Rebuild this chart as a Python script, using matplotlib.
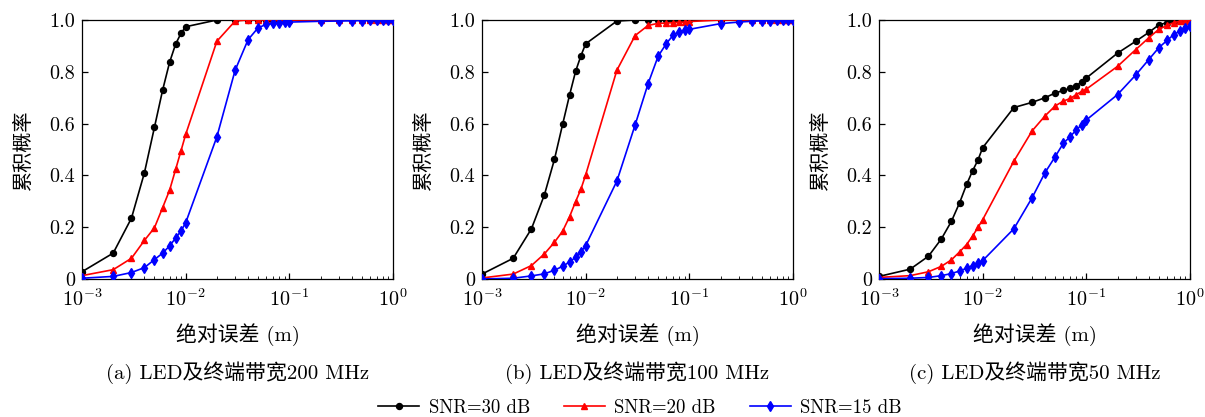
import numpy as np
import matplotlib
matplotlib.use("Agg")
import matplotlib.pyplot as plt

plt.rcParams["font.family"] = ["cmr10", "Noto Sans CJK SC", "DejaVu Sans"]
plt.rcParams["mathtext.fontset"] = "cm"
plt.rcParams["axes.formatter.use_mathtext"] = True
plt.rcParams["axes.unicode_minus"] = False

# 误差取值点: 每十倍程 1..9
ERR = [1e-3, 2e-3, 3e-3, 4e-3, 5e-3, 6e-3, 7e-3, 8e-3, 9e-3,
       1e-2, 2e-2, 3e-2, 4e-2, 5e-2, 6e-2, 7e-2, 8e-2, 9e-2,
       1e-1, 2e-1, 3e-1, 4e-1, 5e-1, 6e-1, 7e-1, 8e-1, 9e-1, 1.0]

# (a) 200 MHz
a_30 = [0.028, 0.10, 0.235, 0.41, 0.586, 0.73, 0.837, 0.907, 0.948,
        0.974, 1.0, 1.0, 1.0, 1.0, 1.0, 1.0, 1.0, 1.0,
        1.0, 1.0, 1.0, 1.0, 1.0, 1.0, 1.0, 1.0, 1.0, 1.0]
a_20 = [0.013, 0.036, 0.08, 0.149, 0.198, 0.276, 0.343, 0.423, 0.494,
        0.558, 0.918, 0.996, 1.0, 1.0, 1.0, 1.0, 1.0, 1.0,
        1.0, 1.0, 1.0, 1.0, 1.0, 1.0, 1.0, 1.0, 1.0, 1.0]
a_15 = [0.003, 0.01, 0.025, 0.044, 0.075, 0.10, 0.128, 0.158, 0.185,
        0.217, 0.549, 0.806, 0.924, 0.970, 0.983, 0.987, 0.99, 0.991,
        0.992, 0.995, 0.996, 0.997, 0.998, 0.999, 1.0, 1.0, 1.0, 1.0]

# (b) 100 MHz
b_30 = [0.019, 0.08, 0.194, 0.325, 0.462, 0.598, 0.711, 0.802, 0.862,
        0.908, 0.996, 1.0, 1.0, 1.0, 1.0, 1.0, 1.0, 1.0,
        1.0, 1.0, 1.0, 1.0, 1.0, 1.0, 1.0, 1.0, 1.0, 1.0]
b_20 = [0.004, 0.019, 0.052, 0.097, 0.142, 0.185, 0.241, 0.299, 0.347,
        0.402, 0.806, 0.94, 0.979, 0.987, 0.988, 0.99, 0.991, 0.992,
        0.994, 1.0, 1.0, 1.0, 1.0, 1.0, 1.0, 1.0, 1.0, 1.0]
b_15 = [0.0, 0.003, 0.012, 0.02, 0.034, 0.049, 0.066, 0.084, 0.105,
        0.129, 0.378, 0.595, 0.754, 0.86, 0.909, 0.942, 0.953, 0.961,
        0.964, 0.986, 0.992, 0.995, 0.997, 0.998, 0.999, 1.0, 1.0, 1.0]

# (c) 50 MHz
c_30 = [0.01, 0.038, 0.088, 0.155, 0.223, 0.295, 0.365, 0.418, 0.459,
        0.507, 0.662, 0.682, 0.70, 0.718, 0.728, 0.736, 0.746, 0.761,
        0.776, 0.872, 0.918, 0.952, 0.981, 0.99, 0.996, 0.998, 1.0, 1.0]
c_20 = [0.006, 0.013, 0.028, 0.049, 0.074, 0.105, 0.133, 0.166, 0.199,
        0.229, 0.455, 0.572, 0.63, 0.668, 0.687, 0.697, 0.712, 0.724,
        0.733, 0.821, 0.886, 0.931, 0.964, 0.979, 0.99, 0.995, 0.998, 1.0]
c_15 = [0.001, 0.003, 0.006, 0.013, 0.021, 0.031, 0.041, 0.052, 0.061,
        0.071, 0.194, 0.314, 0.411, 0.472, 0.524, 0.55, 0.576, 0.595,
        0.614, 0.712, 0.788, 0.847, 0.893, 0.921, 0.944, 0.957, 0.968, 0.975]

PANELS = [
    ("(a) LED及终端带宽200 MHz", a_30, a_20, a_15),
    ("(b) LED及终端带宽100 MHz", b_30, b_20, b_15),
    ("(c) LED及终端带宽50 MHz", c_30, c_20, c_15),
]
SNR_LABELS = ["SNR=30 dB", "SNR=20 dB", "SNR=15 dB"]
STYLES = [("black", "o", 4.3), ("red", "^", 4.8), ("blue", "d", 4.8)]
YTICKS = [0, 0.2, 0.4, 0.6, 0.8, 1.0]
YTICKLABELS = ["0", "0.2", "0.4", "0.6", "0.8", "1.0"]

W, H = 1205, 417
fig = plt.figure(figsize=(W / 100, H / 100), dpi=100)
lefts = [82, 482, 879]
aw, top, bot = 311, 20, 279

handles = []
for i, (caption, s30, s20, s15) in enumerate(PANELS):
    ax = fig.add_axes([lefts[i] / W, (H - bot) / H, aw / W, (bot - top) / H])
    for ys, (col, mk, ms), lab in zip([s30, s20, s15], STYLES, SNR_LABELS):
        h, = ax.plot(ERR, ys, color=col, marker=mk, ms=ms, lw=1.2, label=lab,
                     zorder=3)
        if i == 0:
            handles.append(h)
    ax.set_xscale("log")
    ax.set_xlim(1e-3, 1.0)
    ax.set_ylim(0, 1.0)
    ax.set_yticks(YTICKS)
    ax.set_yticklabels(YTICKLABELS)
    ax.tick_params(direction="in", labelsize=14.5, top=False, right=False,
                   length=4, width=0.9)
    ax.tick_params(which="minor", direction="in", length=2.5, top=False, right=False)
    for sp in ax.spines.values():
        sp.set_linewidth(0.9)
    ax.tick_params(axis="x", pad=7)
    ax.tick_params(axis="y", pad=5)
    ax.set_xlabel("绝对误差 (m)", fontsize=15, labelpad=9)
    ax.set_ylabel("累积概率", fontsize=14.5, labelpad=12)
    ax.text(0.5, -0.36, caption, transform=ax.transAxes, ha="center",
            va="center", fontsize=15)

fig.legend(handles=handles, labels=SNR_LABELS, loc="center",
           bbox_to_anchor=(640 / W, 1 - 408 / H), ncol=3, frameon=False,
           fontsize=13.5, handlelength=2.2, columnspacing=1.8, handletextpad=0.5,
           borderaxespad=0)

fig.savefig("out.png", dpi=100)
